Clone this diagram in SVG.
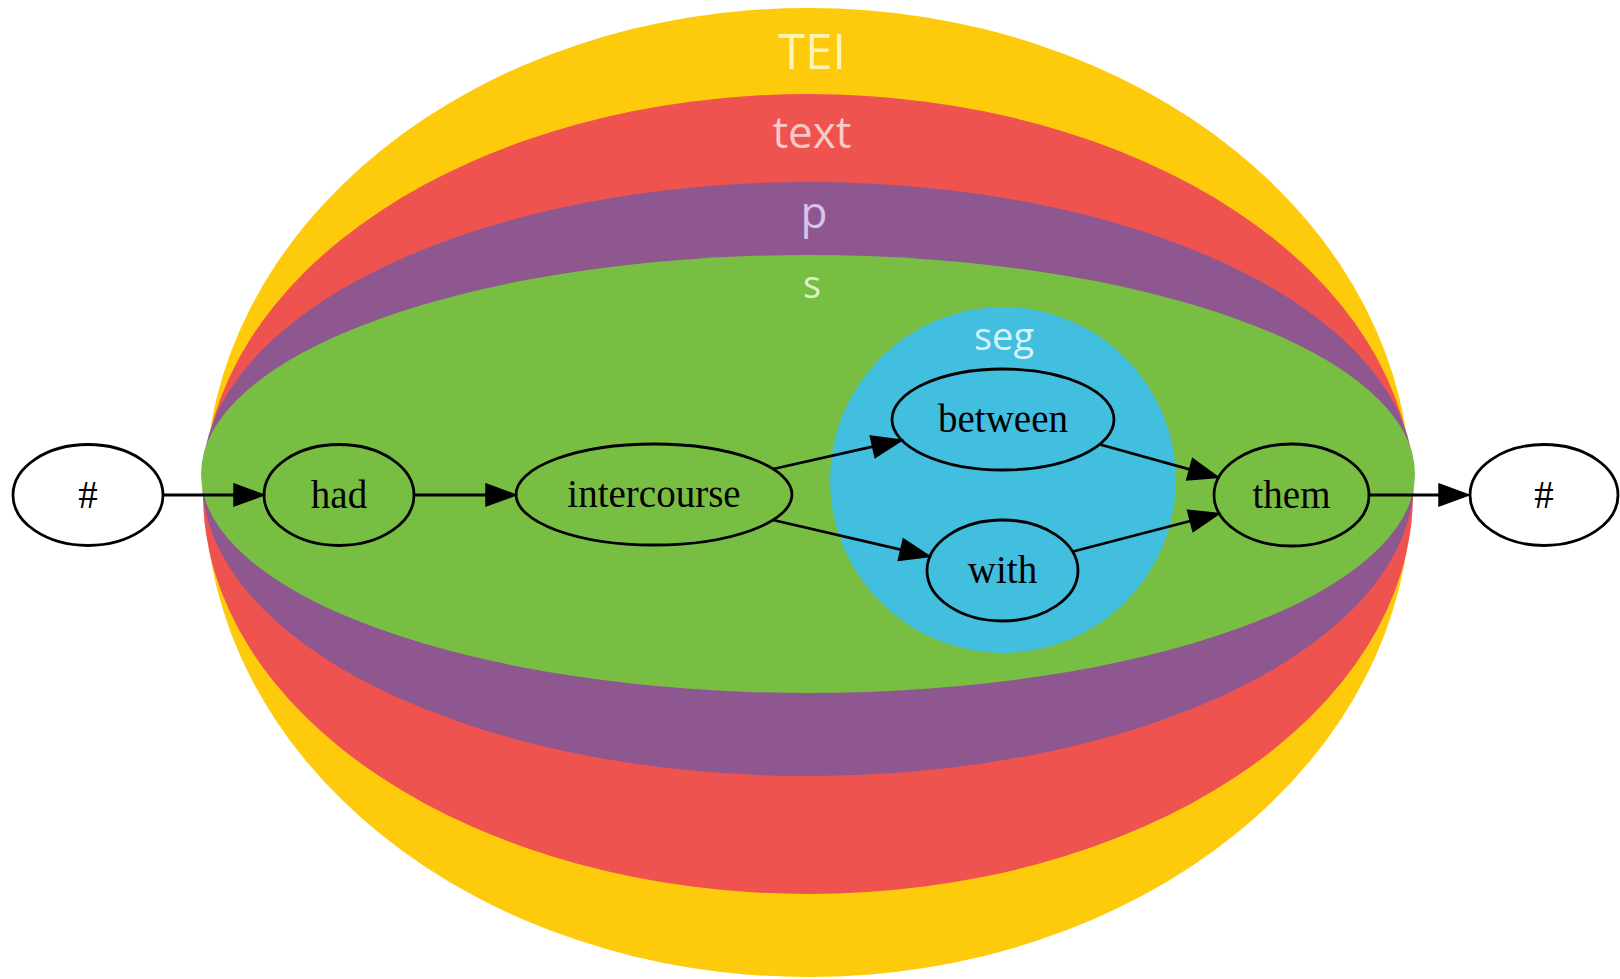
<svg xmlns="http://www.w3.org/2000/svg" width="1620" height="979" viewBox="0 0 1620 979">
<style>
.lbl{font-family:"Open Sans","Noto Sans",sans-serif;text-anchor:middle}
.node ellipse{fill:none;stroke:#000;stroke-width:2.8}
.node text{font-family:"Liberation Serif","Times New Roman",serif;font-size:39px;text-anchor:middle;fill:#000}
.edge{stroke:#000;stroke-width:2.8;fill:none;marker-end:url(#arr)}
</style>
<defs>
<marker id="arr" markerUnits="userSpaceOnUse" markerWidth="30" markerHeight="22" viewBox="0 -11 30 22" refX="0" refY="0" orient="auto" overflow="visible">
<path d="M0,-11 L30,0 L0,11 Z" fill="#000" stroke="#000" stroke-width="1.5"/>
</marker>
</defs>
<rect width="1620" height="979" fill="#fff"/>
<g id="cluster-TEI">
<ellipse cx="808" cy="492.5" rx="603" ry="484.5" fill="#FDCB0B"/>
<text class="lbl" x="812" y="69" font-size="49" fill="#FFF3B5">TEI</text>
</g>
<g id="cluster-text">
<ellipse cx="808" cy="494" rx="605" ry="400" fill="#EF5350"/>
<text class="lbl" x="812" y="148" font-size="44" fill="#FAC9C2">text</text>
</g>
<g id="cluster-p">
<ellipse cx="808" cy="479" rx="606" ry="297" fill="#8E578F"/>
<text class="lbl" x="814" y="228" font-size="44" fill="#D8C2EE">p</text>
</g>
<g id="cluster-s">
<ellipse cx="808" cy="474" rx="607" ry="219" fill="#78BE43"/>
<text class="lbl" x="812" y="298" font-size="38" fill="#DDF1CB">s</text>
</g>
<g id="cluster-seg">
<circle cx="1003" cy="480" r="173" fill="#42BEDE"/>
<text class="lbl" x="1004" y="350" font-size="38" fill="#D6F2FA">seg</text>
</g>
<g id="connectors">
<line class="edge" x1="163" y1="495" x2="234" y2="495"/>
<line class="edge" x1="414" y1="495" x2="486" y2="495"/>
<line class="edge" x1="773" y1="469" x2="872.7" y2="446.7"/>
<line class="edge" x1="773" y1="520" x2="900.8" y2="549.7"/>
<line class="edge" x1="1100" y1="444.5" x2="1189.6" y2="469.3"/>
<line class="edge" x1="1073" y1="551.5" x2="1190.3" y2="521"/>
<line class="edge" x1="1369" y1="495" x2="1439" y2="495"/>
</g>
<g id="node-start" class="node"><ellipse cx="88" cy="495" rx="75" ry="50.5"/><text x="88" y="508">#</text></g>
<g id="node-had" class="node"><ellipse cx="339" cy="495" rx="75" ry="50.5"/><text x="339" y="508">had</text></g>
<g id="node-intercourse" class="node"><ellipse cx="654" cy="494.5" rx="138" ry="50.5"/><text x="654" y="507">intercourse</text></g>
<g id="node-between" class="node"><ellipse cx="1003" cy="419.5" rx="111" ry="50.5"/><text x="1003" y="432">between</text></g>
<g id="node-with" class="node"><ellipse cx="1002.5" cy="570.5" rx="75.5" ry="50.5"/><text x="1002.5" y="583">with</text></g>
<g id="node-them" class="node"><ellipse cx="1291.5" cy="495" rx="77.5" ry="51"/><text x="1291.5" y="508">them</text></g>
<g id="node-end" class="node"><ellipse cx="1544" cy="495" rx="74" ry="50.5"/><text x="1544" y="508">#</text></g>
</svg>
